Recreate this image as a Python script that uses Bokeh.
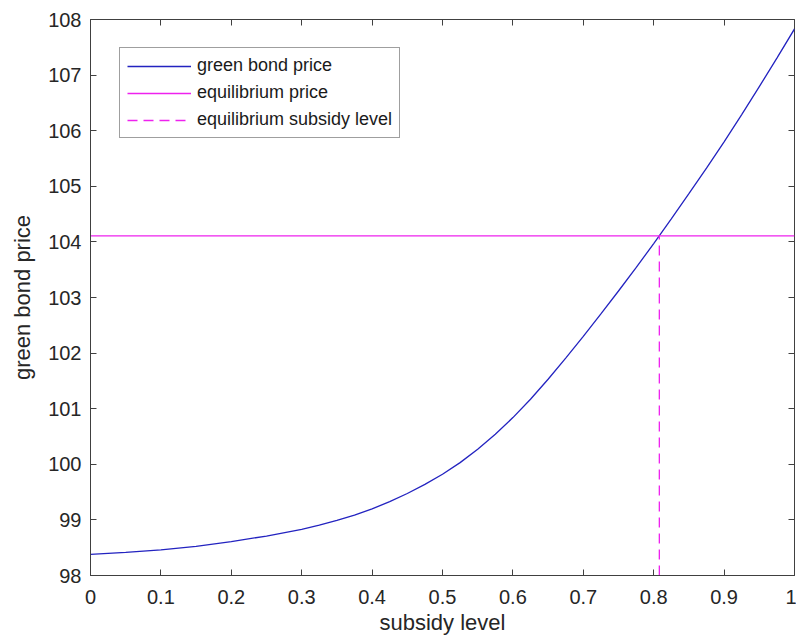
from bokeh.plotting import figure
from bokeh.models import (LinearAxis, FixedTicker, NumeralTickFormatter, Range1d,
                          Legend, LegendItem, CustomJSTickFormatter)
from bokeh.embed import file_html
from bokeh.resources import INLINE

# ---- data ----
subsidy = [0.0, 0.05, 0.1, 0.15, 0.2, 0.25, 0.3, 0.325, 0.35, 0.375, 0.4, 0.425,
           0.45, 0.475, 0.5, 0.525, 0.55, 0.575, 0.6, 0.625, 0.65, 0.675, 0.7,
           0.725, 0.75, 0.775, 0.8, 0.825, 0.85, 0.875, 0.9, 0.925, 0.95, 0.975, 1.0]
green_price = [98.38, 98.415, 98.46, 98.525, 98.61, 98.71, 98.83, 98.905, 98.99, 99.087,
               99.20, 99.33, 99.475, 99.638, 99.82, 100.03, 100.27, 100.54, 100.84,
               101.17, 101.53, 101.91, 102.30, 102.705, 103.117, 103.537, 103.97,
               104.415, 104.867, 105.327, 105.80, 106.29, 106.793, 107.306, 107.83]
eq_price = 104.11
eq_subsidy = 0.808
x_ticks = [0, 0.1, 0.2, 0.3, 0.4, 0.5, 0.6, 0.7, 0.8, 0.9, 1]
y_ticks = [98, 99, 100, 101, 102, 103, 104, 105, 106, 107, 108]
x_range = (0, 1)
y_range = (98, 108)

FONT = "Liberation Sans"
TXT = "#262626"
AX = "#404040"

p = figure(frame_width=704, frame_height=556, output_backend="svg",
           toolbar_location=None,
           x_range=Range1d(*x_range), y_range=Range1d(*y_range),
           min_border_left=90, min_border_top=19, min_border_right=2, min_border_bottom=10,
           background_fill_color="white", border_fill_color="white",
           outline_line_color=AX, outline_line_width=1)
p.xgrid.visible = False
p.ygrid.visible = False

for ax, ticks in ((p.xaxis[0], x_ticks), (p.yaxis[0], y_ticks)):
    ax.ticker = FixedTicker(ticks=ticks)
    ax.major_tick_in = 6
    ax.major_tick_out = 0
    ax.minor_tick_line_color = None
    ax.axis_line_color = AX
    ax.major_tick_line_color = AX
    ax.major_label_text_font = FONT
    ax.major_label_text_font_size = "20px"
    ax.major_label_text_color = TXT
    ax.axis_label_text_font = FONT
    ax.axis_label_text_font_size = "22px"
    ax.axis_label_text_font_style = "normal"
    ax.axis_label_text_color = TXT

p.xaxis[0].formatter = NumeralTickFormatter(format="0.[0]")
p.xaxis[0].axis_label = "subsidy level"
p.xaxis[0].major_label_standoff = 14
p.xaxis[0].axis_label_standoff = 3
p.yaxis[0].axis_label = "green bond price"
p.yaxis[0].major_label_standoff = 9
p.yaxis[0].axis_label_standoff = 10

# box ticks on top and right (no labels)
for loc, ticks in (("above", x_ticks), ("right", y_ticks)):
    a = LinearAxis(ticker=FixedTicker(ticks=ticks),
                   formatter=CustomJSTickFormatter(code="return ''"),
                   major_tick_in=6, major_tick_out=0,
                   minor_tick_line_color=None, axis_line_color=None,
                   major_tick_line_color=AX, major_label_standoff=0,
                   major_label_text_font_size="1px")
    p.add_layout(a, loc)

r_curve = p.line(subsidy, green_price, line_color="#2323c0", line_width=1.3)
r_eq = p.line([x_range[0], x_range[1]], [eq_price, eq_price],
              line_color="#ee22ee", line_width=1.3)
r_sub = p.line([eq_subsidy, eq_subsidy], [y_range[0], eq_price],
               line_color="#ee22ee", line_width=1.3, line_dash="10 6")

legend = Legend(items=[LegendItem(label="green bond price", renderers=[r_curve]),
                       LegendItem(label="equilibrium price", renderers=[r_eq]),
                       LegendItem(label="equilibrium subsidy level", renderers=[r_sub])],
                location=(29, 437), orientation="vertical",
                label_text_font=FONT, label_text_font_size="18px",
                label_text_color="#1a1a1a",
                glyph_width=64, glyph_height=20, label_height=20,
                label_standoff=6, spacing=6, padding=7, margin=0,
                border_line_color=AX, border_line_width=1,
                background_fill_color="white", background_fill_alpha=1)
p.add_layout(legend, "center")

open("out.html", "w").write(file_html(p, INLINE))
